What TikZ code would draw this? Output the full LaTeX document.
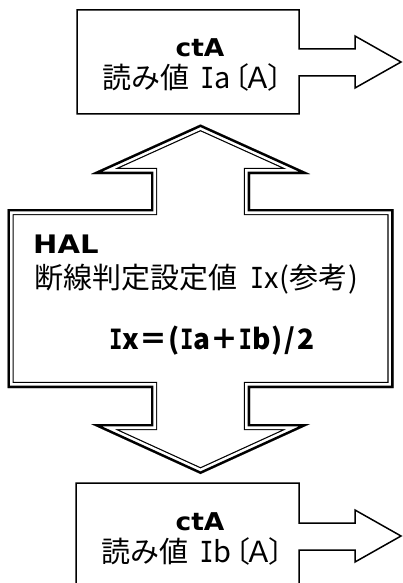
\documentclass[tikz,border=0pt]{standalone}
\usepackage{fontspec}
\newfontfamily\jpfont{Noto Sans CJK JP}
\newfontfamily\serI[FakeStretch=0.8]{DejaVu Sans Mono}
\newfontfamily\labfont[FakeStretch=1.08]{DejaVu Sans}
\newfontfamily\halfont[FakeStretch=1.14]{DejaVu Sans}
\newcommand\Iser{{\serI I}}
\tikzset{
  boxline/.style={line width=1.5pt, line join=miter},
  jptext/.style={inner sep=0pt, anchor=base, font=\jpfont\fontsize{29}{33}\selectfont},
  labtext/.style={inner sep=0pt, anchor=base, font=\labfont\bfseries\fontsize{24.5}{28}\selectfont},
  haltext/.style={inner sep=0pt, anchor=base west, font=\halfont\bfseries\fontsize{25.5}{29}\selectfont},
  halpath/.style={insert path={(200.5,124.5) -- (310,174) -- (250,174) -- (250,209) -- (393.5,209) -- (393.5,388) -- (250,388) -- (250,424) -- (310,424) -- (200.5,474) -- (91,424) -- (151,424) -- (151,388) -- (7.5,388) -- (7.5,209) -- (151,209) -- (151,174) -- (91,174) -- cycle}}
}
\begin{document}
\begin{tikzpicture}[x=1pt,y=-1pt]
\useasboundingbox (0,0) rectangle (402,583);
% top box with block arrow
\draw[boxline] (77,10) -- (299,10) -- (299,49) -- (355,49) -- (355,36) -- (401,62) -- (355,88) -- (355,76) -- (299,76) -- (299,114) -- (77,114) -- cycle;
% bottom box with block arrow
\draw[boxline] (76,483) -- (299,483) -- (299,523) -- (355,523) -- (355,510) -- (401,536) -- (355,562) -- (355,550) -- (299,550) -- (299,590) -- (76,590) -- cycle;
% HAL double-headed block with thick-thin border
\fill[white, halpath];
\begin{scope}
  \clip[halpath];
  \draw[line width=12.4pt, line join=miter, halpath];
  \draw[white, line width=10pt, line join=miter, halpath];
  \draw[line width=4.8pt, line join=miter, halpath];
\end{scope}
% texts
\node[labtext] (ctaA) at (200,57) {ctA};
\node[jptext] (readA) at (199.5,89) {読み値\hspace{11pt}\Iser a\kern-10pt〔\kern-6pt Ａ\kern-5pt〕};
\node[haltext] (hal) at (33,253) {HAL};
\node[jptext, anchor=base west] (judge) at (34,288) {断線判定設定値\hspace{13pt}\Iser x\kern1pt(参考\kern1pt)};
\node[jptext, anchor=base west, font=\jpfont\bfseries\fontsize{28}{32}\selectfont] (formula) at (109,349) {\Iser x＝\kern1.5pt(\Iser a＋\Iser b\kern1pt)\kern2pt/\kern2pt 2};
\node[labtext] (ctaB) at (200,530) {ctA};
\node[jptext] (readB) at (199.5,562) {読み値\hspace{11pt}\Iser b\kern-10pt〔\kern-6pt Ａ\kern-5pt〕};
\end{tikzpicture}
\end{document}
